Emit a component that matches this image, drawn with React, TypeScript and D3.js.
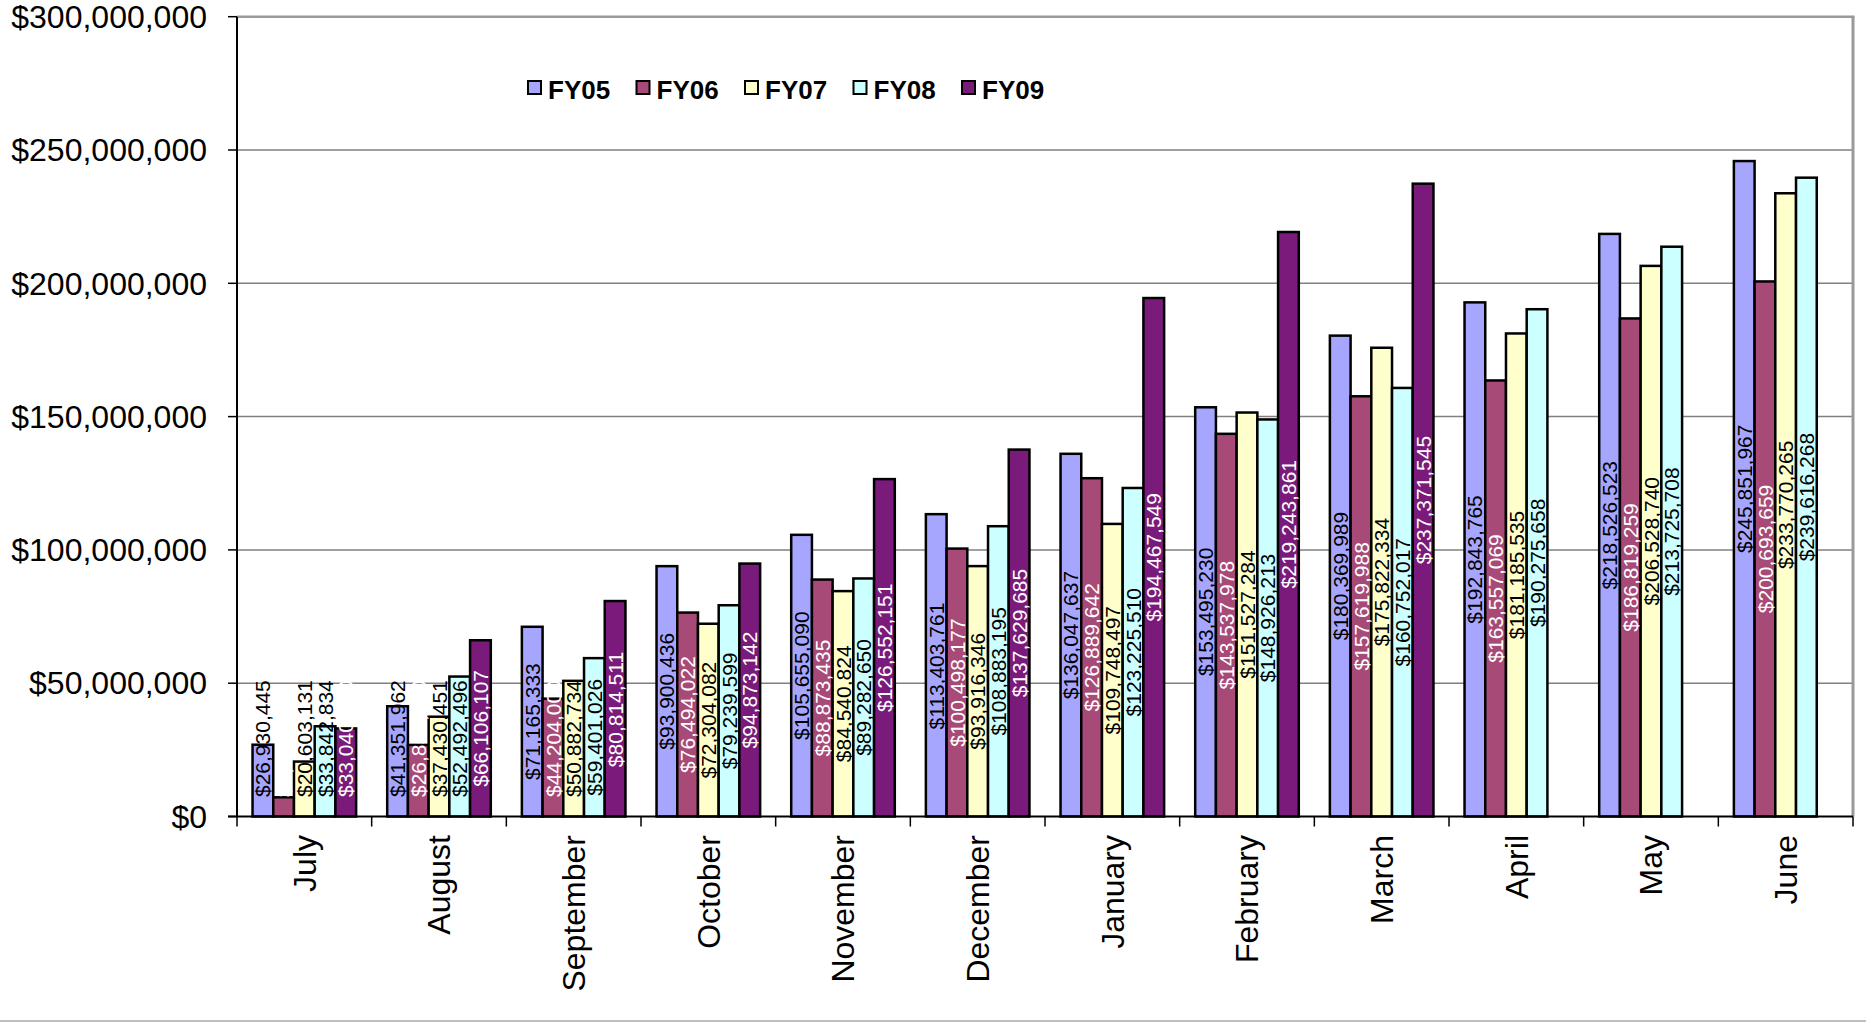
import React from "react";
import * as d3 from "d3";

const months = ["July", "August", "September", "October", "November", "December", "January", "February", "March", "April", "May", "June"];
const seriesNames = ["FY05", "FY06", "FY07", "FY08", "FY09"];
const fy05 = [26930445, 41351962, 71165333, 93900436, 105655090, 113403761, 136047637, 153495230, 180369989, 192843765, 218526523, 245851967];
const fy06 = [7200000, 26850000, 44204000, 76494022, 88873435, 100498177, 126889642, 143537978, 157619988, 163557069, 186819259, 200693659];
const fy07 = [20603131, 37430451, 50882734, 72304082, 84540824, 93916346, 109748497, 151527284, 175822334, 181185535, 206528740, 233770265];
const fy08 = [33842834, 52492496, 59401026, 79239599, 89282650, 108883195, 123225510, 148926213, 160752017, 190275658, 213725708, 239616268];
const fy09 = [33040000, 66106107, 80814511, 94873142, 126552151, 137629685, 194467549, 219243861, 237371545, null, null, null];
const seriesValues = [fy05, fy06, fy07, fy08, fy09];
const seriesColors = ["#A6A6FF", "#A84A78", "#FFFFCC", "#CCFFFF", "#7A1A7A"];
const labelColors = ["#000000", "#FFFFFF", "#000000", "#000000", "#FFFFFF"];
const yTicks = [0, 50000000, 100000000, 150000000, 200000000, 250000000, 300000000];

const W = 1866;
const H = 1024;
const plotLeft = 237;
const plotRight = 1853;
const plotTop = 16.7;
const plotBottom = 816.5;
const labelFont = 21;

function textLen(s: string, size: number) {
  let t = 0;
  for (const ch of s) t += ch === "," ? 0.278 : 0.556;
  return t * size;
}

export default function App() {
  const x0 = d3.scaleBand<string>().domain(months).range([plotLeft, plotRight]).padding(0);
  const x1 = d3.scaleBand<string>().domain(seriesNames).range([0, x0.bandwidth()]).paddingInner(0).paddingOuter(0.75);
  const y = d3.scaleLinear().domain([0, 300000000]).range([plotBottom, plotTop]);
  const fmt = d3.format("$,.0f");
  const labelLimit = y(0) - 19.5;

  const bars: any[] = [];
  seriesNames.forEach((s, si) => {
    seriesValues[si].forEach((v, mi) => {
      if (v == null) return;
      bars.push({ s, si, m: months[mi], v });
    });
  });

  return (
    <div style={{ position: "absolute", left: 0, top: 0 }}>
      <svg width={W} height={H} style={{ display: "block", background: "#fff" }} fontFamily="'Liberation Sans', Arial, sans-serif">
        {yTicks.slice(1, -1).map((t) => (
          <line key={t} x1={plotLeft} x2={plotRight} y1={y(t)} y2={y(t)} stroke="#808080" strokeWidth={1.5} />
        ))}
        <line x1={plotLeft} x2={plotRight + 1.5} y1={y(300000000)} y2={y(300000000)} stroke="#9a9a9a" strokeWidth={2.5} />
        <line x1={plotRight} x2={plotRight} y1={y(300000000)} y2={plotBottom} stroke="#9a9a9a" strokeWidth={3} />
        {bars.map((b) => (
          <rect
            key={b.s + b.m}
            x={(x0(b.m) as number) + (x1(b.s) as number)}
            y={y(b.v)}
            width={x1.bandwidth()}
            height={y(0) - y(b.v)}
            fill={seriesColors[b.si]}
            stroke="#000"
            strokeWidth={2.5}
          />
        ))}
        <line x1={plotLeft} x2={plotLeft} y1={plotTop} y2={plotBottom} stroke="#000" strokeWidth={2} />
        <line x1={plotLeft - 9} x2={plotRight} y1={plotBottom} y2={plotBottom} stroke="#000" strokeWidth={2} />
        {yTicks.map((t) => (
          <g key={"yt" + t}>
            <line x1={plotLeft - 9} x2={plotLeft} y1={y(t)} y2={y(t)} stroke="#000" strokeWidth={1.5} />
            <text x={207} y={y(t)} dy="0.35em" textAnchor="end" fontSize={32} fill="#000">
              {fmt(t)}
            </text>
          </g>
        ))}
        {months.concat(["__end"]).map((m, i) => {
          const xx = i < months.length ? (x0(m) as number) : plotRight;
          return <line key={"xt" + i} x1={xx} x2={xx} y1={plotBottom} y2={plotBottom + 10} stroke="#000" strokeWidth={1.5} />;
        })}
        {months.map((m) => (
          <text
            key={"xl" + m}
            transform={`translate(${(x0(m) as number) + x0.bandwidth() / 2},835) rotate(-90)`}
            dy="0.35em"
            textAnchor="end"
            fontSize={32}
            fill="#000"
          >
            {m}
          </text>
        ))}
        {bars.map((b) => {
          const label = fmt(b.v);
          const len = textLen(label, labelFont);
          const mid = (y(b.v) + y(0)) / 2;
          const start = Math.min(mid + len / 2, labelLimit);
          const cx = (x0(b.m) as number) + (x1(b.s) as number) + x1.bandwidth() / 2;
          return (
            <text
              key={"dl" + b.s + b.m}
              transform={`translate(${cx},${start}) rotate(-90)`}
              dy="0.36em"
              textAnchor="start"
              fontSize={labelFont}
              fill={labelColors[b.si]}
            >
              {label}
            </text>
          );
        })}
        {seriesNames.map((s, i) => (
          <g key={"lg" + s} transform={`translate(${528 + i * 108.5},81)`}>
            <rect x={0} y={0} width={13} height={13} fill={seriesColors[i]} stroke="#000" strokeWidth={2} />
            <text x={20} y={17.5} fontSize={26} fontWeight="bold" fill="#000">
              {s}
            </text>
          </g>
        ))}
        <line x1={0} x2={W} y1={1021} y2={1021} stroke="#c0c0c0" strokeWidth={2} />
      </svg>
    </div>
  );
}
